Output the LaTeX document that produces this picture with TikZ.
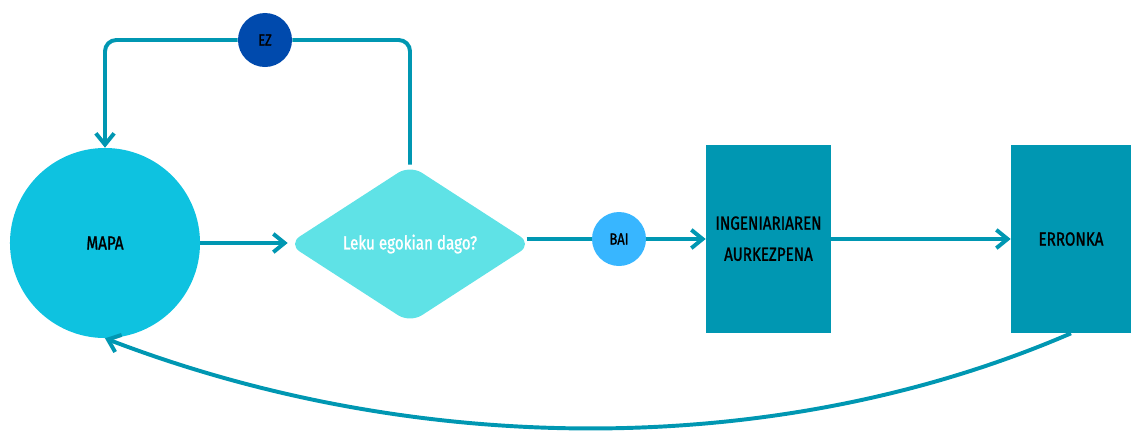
\documentclass[tikz,border=0pt]{standalone}
\usepackage{fontspec}
\setmainfont{Fira Sans}[FakeStretch=0.8, FakeBold=1.2]
\usepackage{xcolor}
\usetikzlibrary{shapes.geometric,arrows.meta,positioning}

\definecolor{mapablue}{HTML}{0EC2E0}
\definecolor{askcyan}{HTML}{5FE2E6}
\definecolor{ezblue}{HTML}{004AAD}
\definecolor{baiblue}{HTML}{38B6FF}
\definecolor{stepteal}{HTML}{0097B2}

\begin{document}
\begin{tikzpicture}[
    x=0.025cm, y=-0.025cm,
    start/.style={circle, fill=mapablue, minimum size=4.75cm, inner sep=0pt, font=\fontsize{13.5}{15}\selectfont},
    question/.style={diamond, fill=askcyan, minimum width=6.1cm, minimum height=3.95cm, aspect=1.55, inner sep=0pt, rounded corners=10pt, text=white, font=\fontsize{13.5}{15}\selectfont},
    answer/.style={circle, minimum size=1.35cm, inner sep=0pt, font=\fontsize{11.5}{13}\selectfont},
    stage/.style={rectangle, fill=stepteal, minimum height=4.7cm, inner sep=0pt, font=\fontsize{13.5}{17}\selectfont},
    line/.style={draw=stepteal, line width=2.8pt, -{Straight Barb[length=8pt, width=13pt, line width=2.8pt]}},
    wire/.style={draw=stepteal, line width=2.8pt}
]
    \useasboundingbox (0,0) rectangle (1131,430);

    % Start
    \node [start] (mapa) at (105,243) {MAPA};

    % Decision
    \node [question] (ask) at (410,244) {Leku egokian dago?};

    % Steps
    \node [stage, minimum width=3.125cm] (ing) at (768.5,239) {\raisebox{-5pt}{\renewcommand\arraystretch{1.3}\begin{tabular}{@{}c@{}}INGENIARIAREN\\AURKEZPENA\end{tabular}}};
    \node [stage, minimum width=3cm] (erronka) at (1071,239) {\raisebox{-4pt}{ERRONKA}};

    % EZ: back to the map
    \node [answer, fill=ezblue] (ez) at (265,40) {EZ};
    \path [wire, rounded corners=8pt] (ask.north) |- (ez.east);
    \path [line, rounded corners=8pt] (ez.west) -| (mapa.north);

    % Flow
    \path [line] (mapa.east) -- (ask.west |- mapa.east);
    \path [line, shorten <=-4pt] (ask.east |- ing.west) -- (ing.west) node [answer, fill=baiblue, pos=0.5] (bai) {BAI};
    \path [line] (ing.east) -- (erronka.west);

    % Loop back from the challenge
    \path [line] (erronka.south) .. controls (780,459) and (420,459) .. (mapa.south);

\end{tikzpicture}
\end{document}
